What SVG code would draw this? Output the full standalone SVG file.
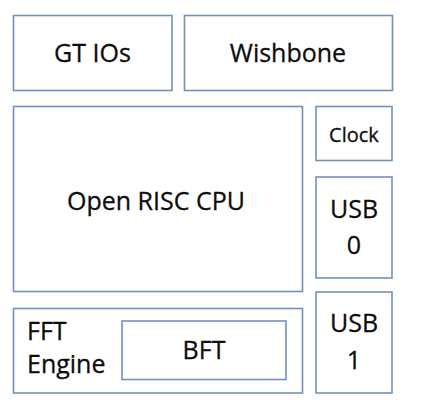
<svg xmlns="http://www.w3.org/2000/svg" width="439" height="408" viewBox="0 0 439 408">
<style>
.box{fill:#ffffff;stroke:#7192bd;stroke-width:1.6}
.t{font-family:"Open Sans","Noto Sans","Liberation Sans",sans-serif;font-size:25px;fill:#0d0d0d;stroke:#0d0d0d;stroke-width:0.3}
.c{text-anchor:middle}
.s{font-size:20px}
</style>
<rect width="439" height="408" fill="#ffffff"/>
<g id="connectors"/>
<g id="gt-ios">
<rect class="box" x="13.5" y="15.5" width="158.5" height="75"/>
<text class="t c" x="92.5" y="62">GT IOs</text>
</g>
<g id="wishbone">
<rect class="box" x="184.5" y="15.5" width="208" height="75"/>
<text class="t c" x="288" y="61.7">Wishbone</text>
</g>
<g id="cpu">
<rect class="box" x="13.5" y="106.5" width="289" height="185"/>
<text class="t c" x="156" y="209.5">Open RISC CPU</text>
</g>
<g id="clock">
<rect class="box" x="316" y="106.5" width="76" height="54"/>
<text class="t c s" x="354" y="141.5">Clock</text>
</g>
<g id="usb0">
<rect class="box" x="316" y="177" width="76" height="101"/>
<text class="t c" x="354" y="218.3">USB</text>
<text class="t c" x="354" y="254.3">0</text>
</g>
<g id="fft-engine">
<rect class="box" x="13.5" y="308.5" width="289" height="84.5"/>
<text class="t" x="27" y="340">FFT</text>
<text class="t" x="27" y="373">Engine</text>
</g>
<g id="bft">
<rect class="box" x="122" y="321" width="164" height="58.5"/>
<text class="t c" x="204" y="359">BFT</text>
</g>
<g id="usb1">
<rect class="box" x="316" y="292" width="76" height="101"/>
<text class="t c" x="354" y="332.3">USB</text>
<text class="t c" x="354" y="369.3">1</text>
</g>
</svg>
